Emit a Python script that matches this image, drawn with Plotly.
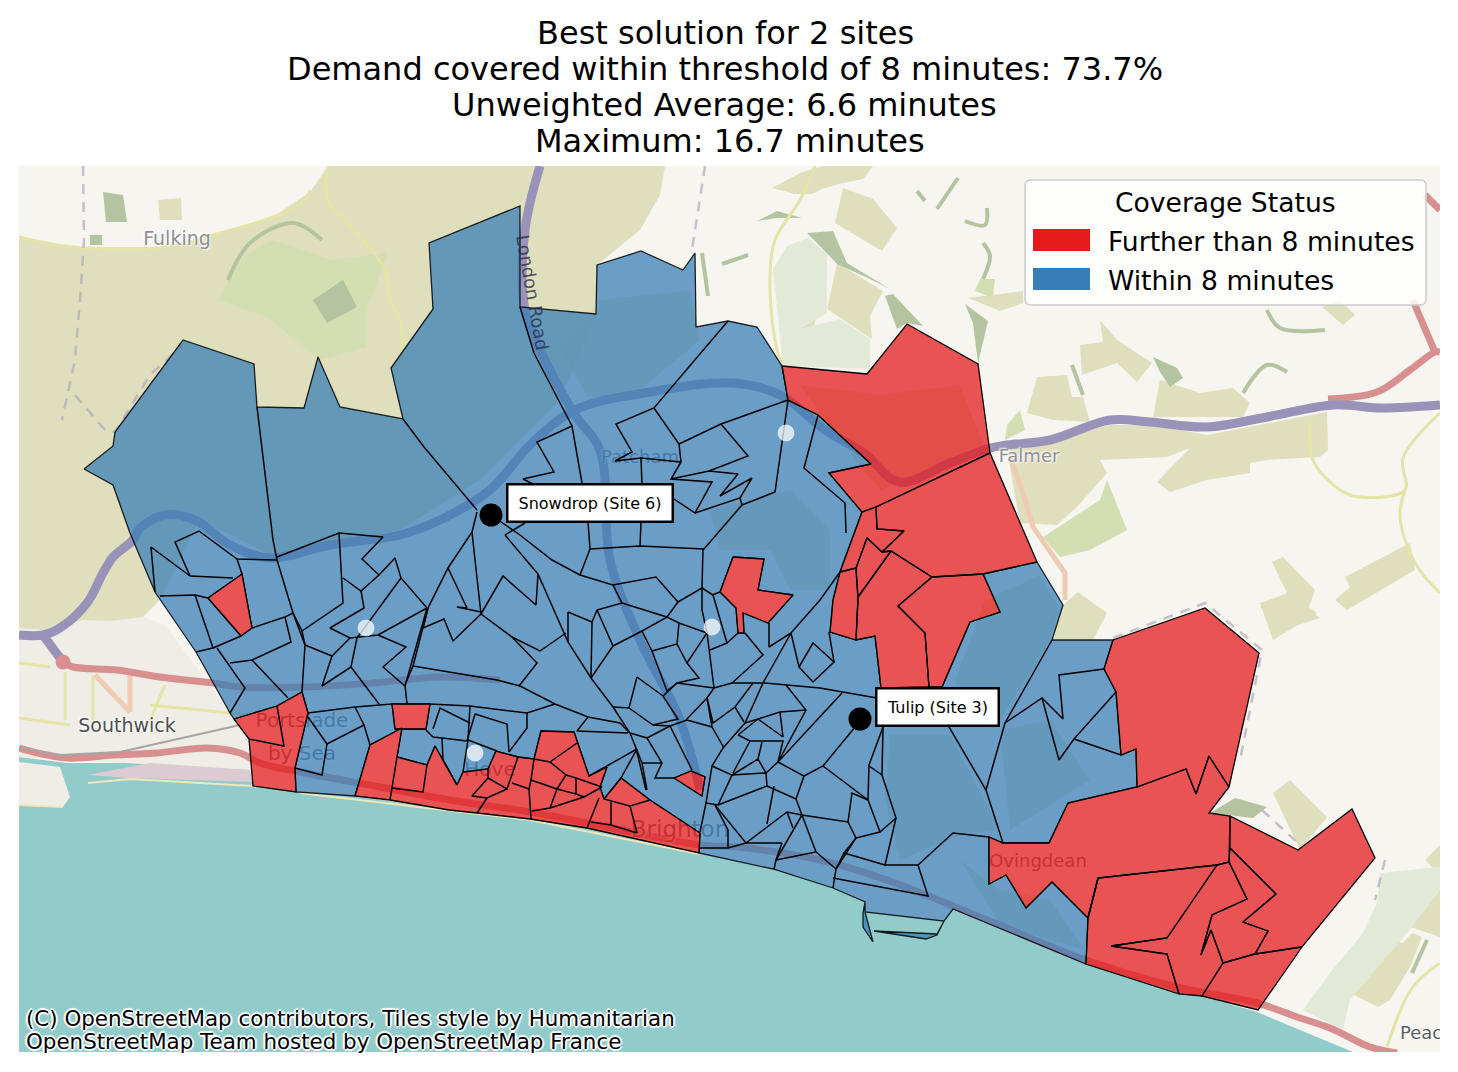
import plotly.graph_objects as go

# --- DATA: everything in picture units (map coords) ---
X_RANGE = [19, 1440]
Y_RANGE = [1052, 166]

TITLE_LINES = ['Best solution for 2 sites',
               'Demand covered within threshold of 8 minutes: 73.7%',
               'Unweighted Average: 6.6 minutes',
               'Maximum: 16.7 minutes']
TITLE_X = [725, 725, 724.5, 729.5]
TITLE_Y = [33, 69, 105, 141]

ATTRIBUTION = ['(C) OpenStreetMap contributors, Tiles style by Humanitarian',
               'OpenStreetMap Team hosted by OpenStreetMap France']
ATTRIBUTION_Y = [1018, 1041]

# basemap
SEA = [[(19, 757), (67, 763), (117, 763), (207, 753), (247, 760), (253, 787), (296, 792), (355, 796),
        (449, 810), (530, 819), (587, 828), (699, 853), (773, 869), (833, 888), (865, 903), (865, 912), (944, 921),
        (952, 909), (1086, 964), (1202, 996), (1257, 1012), (1353, 1052), (19, 1052)]]
HILLS = [
    [(19, 237), (73, 247), (167, 247), (213, 235), (273, 217), (310, 192), (328, 166), (665, 166),
     (660, 195), (640, 230), (597, 265), (596, 314), (560, 400), (480, 480), (400, 530), (270, 555), (200, 520),
     (160, 600), (143, 617), (110, 621), (83, 620), (43, 630), (19, 628)],
    [(158, 200), (181, 198), (182, 220), (160, 220)],
    [(835, 223), (843, 188), (873, 199), (897, 228), (882, 251)],
    [(772, 188), (800, 173), (823, 166), (873, 166), (863, 179), (843, 183), (822, 189), (812, 194), (795, 194)],
    [(810, 288), (825, 291), (813, 329), (798, 328)],
    [(837, 263), (883, 291), (870, 316), (872, 339), (827, 309)],
    [(968, 298), (1023, 291), (1023, 303), (1000, 311)],
    [(1080, 345), (1103, 342), (1100, 320), (1117, 340), (1152, 363), (1137, 382), (1117, 363), (1082, 375)],
    [(1027, 413), (1037, 377), (1067, 375), (1072, 397), (1083, 397), (1090, 422), (1053, 420)],
    [(1160, 380), (1200, 393), (1233, 388), (1250, 403), (1243, 417), (1153, 417)],
    [(1007, 450), (1110, 425), (1153, 425), (1207, 435), (1327, 412), (1328, 450), (1320, 457), (1267, 460),
     (1250, 463), (1250, 473), (1207, 480), (1170, 492), (1157, 482), (1190, 448), (1167, 457), (1100, 460),
     (1107, 473), (1077, 507), (1057, 525), (1020, 523)],
    [(1272, 562), (1283, 557), (1315, 590), (1308, 610), (1320, 618), (1283, 630), (1260, 607), (1270, 600), (1287, 593)],
    [(1345, 577), (1410, 543), (1415, 570), (1347, 610), (1335, 600), (1350, 587)],
    [(1078, 592), (1107, 613), (1093, 640), (1052, 640), (1063, 605)],
    [(1260, 603), (1290, 593), (1317, 613), (1273, 640)],
    [(1322, 307), (1340, 300), (1355, 315), (1343, 325)],
    [(1273, 793), (1290, 780), (1327, 817), (1300, 850)],
    [(1373, 937), (1403, 943), (1412, 933), (1422, 937), (1410, 967), (1390, 1000), (1378, 1007), (1350, 993)],
    [(1440, 890), (1410, 927), (1440, 937)],
    [(1425, 860), (1440, 845), (1440, 875)],
]
# softer blocks that only show through the coverage fill
UNDER_COVER = [
    [(600, 300), (690, 290), (700, 340), (640, 390), (590, 400), (560, 350)],
    [(710, 510), (790, 490), (830, 530), (830, 590), (790, 590), (770, 550), (720, 550)],
    [(955, 680), (985, 600), (1040, 575), (1060, 610), (1045, 650), (1000, 720), (960, 705)],
    [(890, 735), (950, 735), (1000, 830), (960, 835), (900, 860), (885, 800)],
    [(1000, 730), (1050, 720), (1090, 780), (1010, 830)],
    [(800, 385), (880, 395), (960, 385), (985, 450), (880, 490), (840, 440)],
    [(960, 860), (1000, 890), (1050, 900), (1085, 950), (1000, 925)],
]
LIGHT_GREEN = [
    [(218, 300), (243, 257), (273, 240), (333, 260), (387, 253), (367, 310), (367, 347), (320, 360), (267, 317)],
    [(1043, 537), (1100, 500), (1107, 480), (1127, 530), (1090, 550), (1060, 557)],
    [(980, 279), (995, 279), (993, 298), (975, 291)],
    [(1007, 425), (1020, 410), (1025, 430), (1005, 440)],
]
PALE_GREEN = [
    [(773, 269), (787, 246), (808, 238), (827, 254), (827, 313), (800, 329), (840, 319), (870, 339), (870, 369), (783, 366)],
    [(1380, 873), (1440, 867), (1440, 890), (1407, 933), (1350, 1000), (1343, 1030), (1303, 1010), (1330, 973), (1363, 933), (1377, 903)],
]
DARK_GREEN = [
    [(103, 192), (123, 195), (127, 222), (106, 222)],
    [(90, 235), (102, 235), (102, 245), (90, 245)],
    [(313, 300), (343, 280), (357, 307), (327, 323)],
    [(807, 233), (833, 231), (847, 263), (890, 289), (870, 279), (837, 264), (817, 243)],
    [(885, 296), (893, 294), (923, 326), (907, 323), (897, 329)],
    [(965, 304), (988, 321), (978, 363), (973, 323)],
    [(757, 221), (777, 211), (802, 218), (777, 218)],
    [(1153, 357), (1177, 368), (1183, 378), (1170, 387), (1160, 372)],
    [(1235, 798), (1267, 807), (1253, 818), (1210, 813)],
]
DARK_GREEN_STROKES = [
    [(228, 280), (250, 243), (293, 223), (322, 240)],
    [(722, 264), (748, 255)],
    [(702, 253), (708, 296)],
    [(937, 209), (958, 178)],
    [(917, 191), (925, 201)],
    [(965, 221), (985, 225), (987, 208)],
    [(983, 243), (990, 256), (983, 279)],
    [(1267, 310), (1280, 328), (1325, 330)],
    [(1243, 393), (1267, 365), (1287, 372)],
    [(1427, 940), (1412, 973)],
    [(1072, 365), (1083, 395)],
]
URBAN = [
    [(19, 628), (43, 630), (83, 620), (143, 617), (165, 625), (250, 740), (250, 770), (19, 757)],
    [(19, 762), (60, 767), (70, 797), (63, 807), (19, 805)],
]
PINK_STRIP = [[(87, 775), (150, 763), (250, 770), (252, 782), (130, 778)]]
SAND = [[(88, 783), (130, 779), (253, 786)], [(19, 805), (63, 807)], [(300, 793), (530, 820), (699, 854)], [(1170, 985), (1200, 996)]]
MOTORWAY = [
    [(19, 635), (43, 635), (60, 628), (87, 603), (103, 573), (113, 557), (133, 540), (140, 528), (165, 515),
     (195, 520), (230, 545), (270, 558), (330, 545), (400, 535), (440, 520), (490, 490), (530, 445), (575, 410),
     (650, 392), (733, 383), (780, 395), (825, 430), (864, 453), (899, 482), (950, 463), (990, 448), (1007, 445),
     (1050, 440), (1110, 420), (1150, 422), (1207, 427), (1267, 417), (1333, 405), (1383, 408), (1440, 405)],
    [(43, 635), (63, 662)],
    [(540, 166), (525, 230), (525, 310), (545, 360), (575, 415), (600, 450), (610, 560), (640, 640), (680, 720), (700, 790)],
]
TRUNK = [
    [(63, 662), (73, 667), (117, 670), (160, 677), (213, 683), (240, 687), (307, 687), (373, 683), (440, 677), (500, 680)],
    [(19, 748), (67, 758), (113, 755), (157, 753), (207, 748), (240, 753), (260, 763), (300, 772), (380, 787),
     (450, 800), (530, 812), (587, 823), (700, 845), (737, 847), (820, 860), (887, 880), (980, 917), (1067, 953),
     (1086, 960), (1177, 987), (1257, 1003), (1297, 1017), (1330, 1028), (1370, 1047), (1397, 1053)],
    [(1328, 399), (1377, 392), (1410, 370), (1435, 352), (1440, 352)],
    [(1435, 352), (1417, 310), (1413, 300)],
    [(1425, 195), (1440, 210)],
]
ORANGE_ROAD = [[(1010, 457), (1023, 493), (1033, 527), (1065, 573), (1065, 600)],
               [(95, 675), (130, 712)], [(130, 675), (130, 712)]]
YELLOW_ROAD = [
    [(19, 237), (73, 247), (167, 247), (213, 235), (273, 217), (305, 200), (310, 190)],
    [(328, 166), (328, 200), (350, 225), (385, 270), (390, 300), (400, 320), (403, 360)],
    [(815, 166), (800, 200), (775, 240), (770, 280), (775, 340), (782, 366)],
    [(1310, 420), (1313, 460), (1340, 490), (1360, 497), (1405, 490), (1403, 458), (1440, 413)],
    [(1405, 490), (1400, 517), (1415, 563), (1440, 593)],
    [(1387, 1047), (1412, 988), (1440, 963)],
    [(19, 663), (50, 667)], [(65, 672), (65, 720)], [(93, 675), (93, 730)],
    [(150, 720), (165, 685)], [(150, 705), (250, 715)], [(19, 718), (70, 725)],
]
DASHED_PATHS = [
    [(83, 166), (84, 240), (80, 300), (75, 360), (62, 420)],
    [(75, 395), (105, 430), (115, 432), (150, 375), (183, 345)],
    [(705, 166), (697, 220), (692, 250)],
    [(1113, 638), (1205, 603), (1262, 650), (1240, 760)],
    [(1262, 810), (1300, 845)],
    [(1385, 860), (1375, 900)],
]
RAILWAY = [[(19, 748), (60, 755), (120, 752), (240, 725)]]

MAP_LABELS = ['Fulking', 'Southwick', 'Portslade', 'by Sea', 'Hove', 'Brighton', 'Ovingdean', 'Falmer', 'Patcham', 'Peac']
MAP_LABEL_X = [177, 127, 302, 302, 490, 680, 1038, 1029, 640, 1400]
MAP_LABEL_Y = [240, 727, 722, 755, 771, 831, 862, 457, 458, 1034]
MAP_LABEL_SIZE = [19, 19, 20, 20, 20, 23, 18, 18, 18, 18]
MAP_LABEL_COLOR = ['#8f8f95', '#4f4f52', '#6f6f75', '#6f6f75', '#6f6f75', '#6f6f75', '#6f6f75', '#8f8f95', '#6f6f75', '#5f5f62']

# coverage regions
BLUE_OUTLINE = [
    (84, 469), (113, 446), (115, 432), (183, 340), (254, 364), (257, 407), (304, 408), (318, 357), (340, 407),
    (403, 419), (391, 368), (433, 309), (429, 243), (520, 206), (520, 307), (596, 314), (597, 265), (641, 251),
    (683, 270), (695, 253), (696, 327), (728, 321), (757, 327), (782, 366), (788, 400), (818, 415), (871, 464),
    (829, 473), (862, 512), (840, 572), (833, 600), (830, 632), (856, 640), (875, 636), (881, 688), (929, 687),
    (942, 687), (970, 622), (1000, 612), (983, 574), (1037, 562), (1063, 605), (1052, 640), (1113, 640),
    (1104, 669), (1116, 692), (1121, 755), (1136, 749), (1137, 787), (1068, 803), (1049, 843), (1003, 843),
    (989, 837), (989, 884), (1006, 875), (1026, 908), (1052, 882), (1088, 918), (1086, 964), (953, 909),
    (944, 921), (937, 935), (926, 939), (874, 931), (937, 934), (944, 921), (865, 912), (865, 902), (863, 913),
    (863, 927), (873, 942), (865, 912), (865, 902), (833, 888), (773, 869), (699, 853), (700, 833), (650, 800),
    (621, 778), (604, 799), (600, 787), (607, 767), (589, 776), (574, 732), (541, 731), (534, 759), (518, 757),
    (496, 751), (488, 769), (463, 772), (457, 785), (435, 746), (427, 765), (397, 757), (402, 728), (370, 745),
    (355, 796), (296, 792), (295, 768), (308, 713), (302, 692), (277, 706), (234, 719), (230, 713), (196, 652),
    (155, 592), (130, 533), (113, 485)]
RED_ISLANDS = [
    [(208, 598), (242, 574), (252, 628), (241, 636)],
    [(392, 704), (430, 704), (426, 729), (395, 729)],
    [(733, 557), (764, 559), (758, 590), (793, 595), (768, 623), (743, 613), (744, 633), (738, 633), (736, 608), (720, 592)],
    [(674, 778), (691, 771), (705, 777), (702, 796)],
]
RED_AREAS = [
    [(782, 366), (867, 374), (907, 324), (978, 364), (990, 453), (876, 507), (862, 512), (829, 473), (871, 464), (818, 415), (788, 400)],
    [(876, 507), (990, 453), (1037, 562), (983, 574), (932, 577), (891, 551), (882, 552), (904, 531), (877, 529)],
    [(862, 512), (876, 507), (877, 529), (904, 531), (882, 552), (867, 538), (856, 568), (840, 572)],
    [(840, 572), (856, 568), (858, 600), (856, 640), (830, 632), (833, 600)],
    [(867, 538), (882, 552), (891, 551), (858, 597), (856, 568)],
    [(891, 551), (932, 577), (898, 606), (925, 633), (929, 687), (881, 688), (875, 636), (856, 640), (858, 597)],
    [(932, 577), (983, 574), (1000, 612), (970, 622), (942, 687), (929, 687), (925, 633), (898, 606)],
    [(1113, 640), (1205, 608), (1259, 653), (1229, 787), (1209, 756), (1196, 794), (1186, 769), (1137, 787),
     (1136, 749), (1121, 755), (1116, 692), (1104, 669)],
    [(1229, 787), (1209, 813), (1230, 816), (1229, 862), (1217, 865), (1098, 878), (1088, 918), (1052, 882), (1026, 908),
     (1006, 875), (989, 884), (989, 837), (1003, 843), (1049, 843), (1068, 803), (1137, 787), (1186, 769), (1196, 794), (1209, 756)],
    [(1230, 816), (1298, 850), (1352, 809), (1375, 858), (1302, 947), (1255, 954), (1268, 931), (1243, 922), (1276, 894), (1230, 848)],
    [(1217, 865), (1229, 862), (1247, 899), (1212, 915), (1201, 955), (1211, 930), (1223, 963), (1202, 996), (1179, 994),
     (1167, 954), (1111, 946), (1167, 938)],
    [(1098, 878), (1217, 865), (1167, 938), (1111, 946), (1167, 954), (1179, 994), (1086, 964), (1088, 918)],
    [(1223, 963), (1255, 954), (1302, 947), (1258, 1010), (1202, 996)],
    [(1230, 848), (1276, 894), (1243, 922), (1268, 931), (1255, 954), (1223, 963), (1211, 930), (1201, 955), (1212, 915), (1247, 899), (1229, 862)],
    [(402, 728), (397, 757), (427, 765), (435, 746), (457, 785), (463, 772), (488, 769), (496, 751), (518, 757), (534, 759),
     (541, 731), (574, 732), (589, 776), (607, 767), (600, 787), (604, 799), (621, 778), (650, 800), (700, 833), (699, 853),
     (587, 828), (530, 819), (477, 813), (449, 810), (390, 800), (355, 796), (370, 745)],
    [(234, 719), (277, 706), (302, 692), (308, 713), (295, 768), (296, 792), (253, 786), (249, 739)],
] + RED_ISLANDS

WARD_LINES = [
    # north and west
    [(257, 407), (273, 540), (277, 560)],
    [(403, 419), (424, 447), (477, 510)],
    [(520, 307), (534, 353), (572, 426), (582, 483), (588, 522), (590, 549), (580, 575)],
    [(728, 321), (654, 408), (616, 424), (632, 452), (615, 461), (641, 458), (681, 462)],
    [(654, 408), (679, 444), (681, 462), (671, 479), (712, 482), (695, 513), (671, 497)],
    [(671, 479), (709, 471), (738, 474), (720, 496), (752, 478), (740, 498), (695, 513)],
    [(740, 498), (742, 505), (775, 492), (788, 400)],
    [(679, 444), (721, 424), (788, 400)],
    [(721, 424), (748, 456), (709, 471)],
    [(742, 505), (704, 549), (640, 546), (590, 549)],
    [(641, 458), (642, 485)], [(641, 522), (640, 546)],
    [(572, 426), (537, 442), (554, 472), (523, 479), (545, 490)],
    [(818, 415), (804, 468), (845, 503), (846, 533)],
    [(491, 515), (520, 535), (552, 560), (580, 575), (613, 585), (656, 577), (678, 602), (702, 588), (703, 549)],
    [(505, 535), (525, 523)], [(505, 535), (538, 574)],
    [(477, 512), (472, 532), (475, 560), (481, 614), (503, 576), (536, 605), (538, 574), (568, 642), (591, 678),
     (613, 707), (630, 733), (636, 748), (646, 790)],
    [(472, 532), (448, 568), (428, 608), (423, 628), (444, 619), (453, 641), (481, 614)],
    [(448, 568), (467, 608), (457, 607), (481, 612)],
    [(481, 614), (512, 637), (540, 651), (566, 633)],
    [(512, 637), (537, 663), (519, 686)],
    [(413, 666), (497, 680), (520, 686), (555, 704), (588, 717), (620, 723), (630, 733)],
    [(428, 608), (413, 666), (405, 685), (407, 704)],
    # west
    [(151, 547), (155, 592)],
    [(151, 547), (190, 576), (175, 542), (199, 531), (237, 559), (277, 560)],
    [(190, 576), (233, 578)], [(237, 559), (242, 574)],
    [(160, 596), (195, 595), (208, 598)],
    [(195, 595), (213, 648), (196, 652)],
    [(213, 648), (241, 636)],
    [(217, 648), (245, 688), (230, 713)],
    [(230, 663), (252, 660), (291, 642), (285, 617), (252, 628)],
    [(252, 660), (288, 698)],
    [(277, 560), (293, 613), (305, 645), (302, 692)],
    [(285, 617), (293, 613), (302, 631), (305, 645)],
    [(302, 631), (343, 603), (339, 533), (277, 557)],
    [(339, 533), (383, 537), (362, 559), (379, 575), (395, 558), (401, 578), (427, 608)],
    [(343, 578), (361, 591), (379, 575)],
    [(361, 591), (364, 608), (330, 628), (350, 638), (378, 635), (427, 608)],
    [(401, 578), (357, 638)],
    [(350, 638), (332, 656), (305, 645)],
    [(332, 656), (322, 686), (351, 667), (357, 638)],
    [(351, 667), (379, 704)],
    [(378, 635), (406, 647), (383, 667), (405, 686), (427, 608)],
    # seafront band
    [(308, 713), (355, 707), (392, 704)],
    [(430, 704), (470, 706), (527, 713), (555, 704)],
    [(355, 707), (364, 725), (370, 745)],
    [(364, 725), (327, 744), (308, 717)],
    [(327, 744), (322, 775), (295, 768)],
    [(426, 730), (433, 737), (442, 738), (467, 741)],
    [(433, 729), (440, 708), (470, 723)],
    [(442, 738), (443, 760), (457, 785)],
    [(470, 706), (468, 740), (463, 772)],
    [(475, 714), (507, 724), (509, 752)], [(475, 714), (467, 741)],
    [(468, 740), (497, 751)],
    [(527, 713), (527, 728), (509, 752)],
    [(588, 717), (577, 731), (628, 733)],
    # centre
    [(568, 612), (568, 642)], [(568, 612), (592, 622), (591, 678)],
    [(592, 622), (597, 610), (613, 646), (591, 678)],
    [(597, 610), (622, 603), (613, 585)],
    [(622, 603), (667, 617), (678, 602)],
    [(613, 646), (642, 631), (667, 617), (679, 623)],
    [(642, 631), (652, 651), (677, 644), (679, 623), (707, 633), (687, 663)],
    [(652, 651), (667, 691), (677, 683), (699, 678), (687, 663), (677, 644)],
    [(637, 677), (629, 708), (613, 707)],
    [(637, 677), (663, 696), (678, 719), (653, 725), (629, 708)],
    [(663, 696), (677, 683), (714, 688), (732, 683)],
    [(653, 725), (670, 726), (687, 720), (712, 727), (724, 748)],
    [(670, 726), (692, 770)],
    [(630, 733), (647, 738), (662, 763), (655, 778), (674, 778)],
    [(647, 738), (670, 726)],
    [(636, 748), (642, 763), (647, 790)], [(642, 763), (662, 763)],
    [(637, 749), (589, 776)], [(637, 749), (621, 778)],
    [(702, 588), (702, 610), (707, 633), (714, 688), (707, 698), (712, 727)],
    [(707, 698), (686, 720)],
    [(707, 698), (713, 723), (735, 707), (753, 683)],
    [(735, 707), (744, 722)],
    [(702, 588), (713, 595), (727, 643), (710, 650)],
    [(727, 643), (738, 633)], [(712, 595), (720, 592)],
    [(745, 633), (763, 655), (732, 683)],
    [(769, 623), (769, 647), (791, 633), (820, 600), (840, 572)],
    [(791, 633), (763, 683), (745, 723), (723, 748), (712, 766), (706, 803), (700, 832)],
    [(791, 633), (799, 667), (813, 643), (834, 662), (813, 682), (799, 667)],
    [(829, 632), (834, 662)],
    [(732, 683), (765, 683), (820, 688), (877, 698)],
    [(786, 685), (806, 710), (778, 762), (842, 693)],
    [(806, 710), (780, 712), (758, 719), (745, 723)],
    [(780, 712), (783, 737)], [(758, 719), (783, 737)],
    [(738, 735), (750, 741), (783, 741), (778, 762)],
    [(738, 735), (758, 719)],
    # south-east of the centre
    [(712, 766), (732, 775), (718, 805), (706, 803)],
    [(732, 775), (766, 773), (767, 786), (718, 805)],
    [(767, 786), (796, 799), (804, 776), (778, 762), (766, 773), (758, 759), (732, 775)],
    [(758, 759), (762, 742)], [(750, 741), (733, 773)],
    [(804, 776), (823, 766), (860, 721)],
    [(823, 766), (868, 800), (869, 765), (883, 727)],
    [(868, 800), (852, 793), (848, 822), (802, 815), (796, 799)],
    [(802, 815), (787, 812), (746, 843), (715, 805)],
    [(787, 812), (793, 828)], [(767, 824), (774, 786)],
    [(802, 815), (776, 860), (774, 869)],
    [(776, 860), (816, 852), (802, 815)],
    [(816, 852), (836, 869), (833, 888)],
    [(836, 869), (856, 838), (848, 822)],
    [(856, 838), (880, 832), (868, 800)],
    [(880, 832), (896, 818), (882, 775), (869, 766)],
    [(882, 775), (883, 727)],
    [(896, 818), (885, 865), (918, 865), (928, 896), (833, 878)],
    [(885, 865), (844, 853), (836, 869)], [(844, 853), (856, 838)],
    [(918, 865), (953, 833), (989, 837)],
    [(700, 848), (728, 848), (746, 843), (782, 843)],
    [(728, 848), (728, 830), (715, 805)],
    [(776, 860), (782, 843)],
    # east
    [(942, 687), (949, 727), (986, 790), (1003, 843)],
    [(986, 790), (1005, 723), (1052, 640)],
    [(1005, 723), (1042, 698), (1059, 760), (1074, 739), (1121, 755)],
    [(1074, 739), (1116, 692)],
    [(1042, 698), (1063, 719), (1059, 675), (1104, 669)],
    # inside the red blocks
    [(277, 706), (284, 746), (249, 739)],
    [(397, 757), (392, 788), (423, 792), (427, 765)], [(392, 788), (390, 800)],
    [(488, 769), (488, 778), (507, 789), (518, 757)],
    [(488, 778), (472, 796), (487, 798), (507, 789)], [(487, 798), (477, 813)],
    [(512, 783), (529, 789), (531, 780), (534, 759)], [(529, 789), (531, 819)],
    [(531, 780), (557, 789), (566, 775), (550, 762), (534, 759)],
    [(557, 789), (550, 808), (532, 811)],
    [(550, 762), (577, 743)],
    [(566, 775), (576, 778), (602, 787), (584, 797), (550, 808)],
    [(576, 778), (576, 794), (584, 797)],
    [(557, 789), (576, 794)],
    [(599, 798), (587, 828)],
    [(591, 822), (611, 825), (637, 833)],
    [(611, 825), (611, 802)],
    [(604, 799), (630, 806), (637, 833)],
    [(630, 806), (650, 800)],
    [(1098, 878), (1088, 918)],
]

SITE_X = [491, 860]
SITE_Y = [515, 719]
SITE_NAMES = ['Snowdrop (Site 6)', 'Tulip (Site 3)']
SITE_BOX_WIDTH = [161, 118]
SITE_XSHIFT = [98.5, 77]
OTHER_SITE_X = [786, 366, 712, 475]
OTHER_SITE_Y = [433, 628, 627, 753]

LEGEND_TITLE = 'Coverage Status'
LEGEND_NAMES = ['Further than 8 minutes', 'Within 8 minutes']
LEGEND_COLORS = ['#e41a1c', '#377eb8']

COLOR_RED = 'rgba(228,26,28,0.74)'
COLOR_BLUE = 'rgba(55,126,184,0.73)'
HALO = '2px 0 1px white, -2px 0 1px white, 0 2px 1px white, 0 -2px 1px white, 1px 1px 1px white, -1px -1px 1px white'


def flat(polys, closed=True):
    # one trace per style, polygons split by None
    xs, ys = [], []
    for poly in polys:
        pts = list(poly) + [poly[0]] if closed else list(poly)
        xs += [p[0] for p in pts] + [None]
        ys += [p[1] for p in pts] + [None]
    return xs, ys


def px(x):
    return (x - X_RANGE[0]) / (X_RANGE[1] - X_RANGE[0])


def py(y):
    return (Y_RANGE[0] - y) / (Y_RANGE[0] - Y_RANGE[1])


fig = go.Figure()


def add_area(polys, fill, line_color=None, line_width=0):
    x, y = flat(polys)
    fig.add_trace(go.Scatter(x=x, y=y, mode='lines', fill='toself', fillcolor=fill,
                             line=dict(color=line_color or fill, width=line_width),
                             hoverinfo='skip', showlegend=False))


def add_path(paths, color, width, dash=None, shape='linear'):
    x, y = flat(paths, closed=False)
    fig.add_trace(go.Scatter(x=x, y=y, mode='lines',
                             line=dict(color=color, width=width, dash=dash, shape=shape),
                             hoverinfo='skip', showlegend=False))


# --- basemap ---
add_area(SEA, '#91cccb')
add_area(URBAN, '#efede6')
add_area(HILLS, '#dfdfbd')
add_area(UNDER_COVER, 'rgba(205,210,170,0.55)')
add_area(PALE_GREEN, '#e2ead7')
add_area(LIGHT_GREEN, '#d3deb2')
add_area(DARK_GREEN, '#b4c4a0')
add_path(DARK_GREEN_STROKES, '#b4c4a0', 4, shape='spline')
add_area(PINK_STRIP, '#dccbd2')
add_path(SAND, '#efe6b8', 2)
add_path(YELLOW_ROAD, '#e3e4a6', 3, shape='spline')
add_path(ORANGE_ROAD, '#efcbb4', 5)
add_path(TRUNK, '#d88f8f', 7, shape='spline')
add_path(RAILWAY, '#a5a5a5', 2)
add_path(MOTORWAY, '#9a93b9', 9, shape='spline')
add_path(DASHED_PATHS, 'rgba(175,170,185,0.7)', 2.5, dash='10px,8px')

fig.add_trace(go.Scatter(
    x=[63], y=[662], mode='markers', marker=dict(color='#d88f8f', size=15),
    hoverinfo='skip', showlegend=False))

fig.add_trace(go.Scatter(
    x=MAP_LABEL_X, y=MAP_LABEL_Y, text=MAP_LABELS, mode='text',
    textposition=['middle center'] * 9 + ['middle right'],
    textfont=dict(family='DejaVu Sans', size=MAP_LABEL_SIZE, color=MAP_LABEL_COLOR,
                  shadow='1px 1px 2px white, -1px -1px 2px white'),
    hoverinfo='skip', showlegend=False))

# --- coverage ---
blue_x, blue_y = flat([BLUE_OUTLINE] + [isl[::-1] for isl in RED_ISLANDS])
fig.add_trace(go.Scatter(x=blue_x, y=blue_y, mode='lines', fill='toself', fillcolor=COLOR_BLUE,
                         line=dict(color='rgba(0,0,0,0.85)', width=1.3),
                         hoverinfo='skip', showlegend=False))
add_area(RED_AREAS, COLOR_RED, 'black', 1.3)
add_path(WARD_LINES, 'black', 1.5)

fig.add_trace(go.Scatter(
    x=OTHER_SITE_X, y=OTHER_SITE_Y, mode='markers',
    marker=dict(color='rgba(255,255,255,0.72)', size=16, line=dict(color='rgba(255,255,255,0.5)', width=1)),
    hoverinfo='skip', showlegend=False))
fig.add_trace(go.Scatter(
    x=SITE_X, y=SITE_Y, mode='markers', marker=dict(color='black', size=23),
    hoverinfo='skip', showlegend=False))

# --- text ---
annotations = []
for line, x, y in zip(TITLE_LINES, TITLE_X, TITLE_Y):
    annotations.append(dict(text=line, x=px(x), y=py(y), xref='paper', yref='paper',
                            xanchor='center', yanchor='middle',
                            showarrow=False, font=dict(size=32, color='black')))
for line, y in zip(ATTRIBUTION, ATTRIBUTION_Y):
    annotations.append(dict(text=line, x=24, y=y, xref='x', yref='y', xanchor='left',
                            showarrow=False, font=dict(size=21.4, color='black', shadow=HALO)))
for name, x, y, w, shift in zip(SITE_NAMES, SITE_X, SITE_Y, SITE_BOX_WIDTH, SITE_XSHIFT):
    annotations.append(dict(text=name, x=x, y=y, xref='x', yref='y', xshift=shift, yshift=12.5,
                            showarrow=False, width=w, height=33, bgcolor='white',
                            bordercolor='black', borderwidth=2.5,
                            font=dict(size=16, color='black')))
annotations.append(dict(text='London Road', x=533, y=292, xref='x', yref='y', textangle=80,
                        showarrow=False, font=dict(size=18, color='rgba(40,45,65,0.8)')))

# legend box, small rounded corners
lx0, lx1, ly0, ly1, r = 1025, 1426, 180, 305, 6
shapes = [dict(type='path', xref='x', yref='y',
               path=(f'M{lx0 + r},{ly0} L{lx1 - r},{ly0} Q{lx1},{ly0} {lx1},{ly0 + r} L{lx1},{ly1 - r} '
                     f'Q{lx1},{ly1} {lx1 - r},{ly1} L{lx0 + r},{ly1} Q{lx0},{ly1} {lx0},{ly1 - r} '
                     f'L{lx0},{ly0 + r} Q{lx0},{ly0} {lx0 + r},{ly0} Z'),
               fillcolor='rgba(255,255,255,0.85)', line=dict(color='#cccccc', width=1.5))]
annotations.append(dict(text=LEGEND_TITLE, x=1225, y=202, xref='x', yref='y', showarrow=False,
                        font=dict(size=26.6, color='black')))
for name, color, y in zip(LEGEND_NAMES, LEGEND_COLORS, [240, 279]):
    shapes.append(dict(type='rect', x0=1033, x1=1090, y0=y - 11, y1=y + 11, xref='x', yref='y',
                       fillcolor=color, line=dict(width=0)))
    annotations.append(dict(text=name, x=1106, y=y + 1, xref='x', yref='y', xanchor='left',
                            showarrow=False, font=dict(size=26.6, color='black')))

fig.update_layout(
    width=1442, height=1056,
    margin=dict(l=11, r=10, t=158, b=12, pad=0),
    paper_bgcolor='white',
    plot_bgcolor='#f6f5f0',
    font=dict(family='DejaVu Sans'),
    xaxis=dict(range=X_RANGE, visible=False, fixedrange=True),
    yaxis=dict(range=Y_RANGE, visible=False, fixedrange=True),
    showlegend=False,
    shapes=shapes,
    annotations=annotations,
)

fig.write_html("out.html")
